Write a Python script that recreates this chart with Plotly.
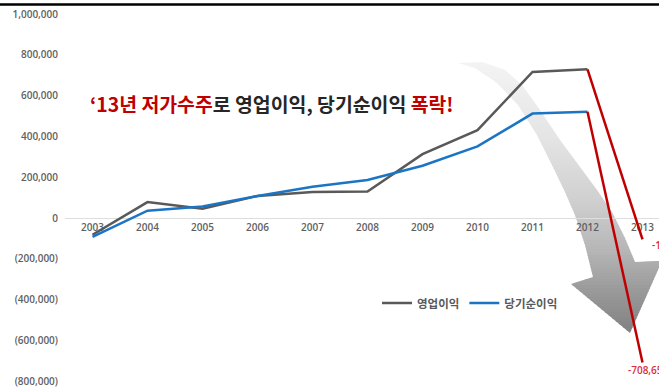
import plotly.graph_objects as go

# Annual results (million KRW)
years = [2003, 2004, 2005, 2006, 2007, 2008, 2009, 2010, 2011, 2012, 2013]
operating_profit = [-82000, 78000, 45000, 108000, 127000, 130000, 313000, 431000, 716000, 729000, -105000]
net_income = [-92000, 36000, 56000, 108000, 153000, 186000, 256000, 351000, 512000, 521000, -708654]

series_names = ["영업이익", "당기순이익"]
y_tick_values = [1000000, 800000, 600000, 400000, 200000, 0, -200000, -400000, -600000, -800000]
y_tick_labels = ["1,000,000", "800,000", "600,000", "400,000", "200,000", "0",
                 "(200,000)", "(400,000)", "(600,000)", "(800,000)"]

# Page / plot-area geometry (pixels)
W, H = 659, 387
L, R, T, B = 65, 659, 8, 387
CAT_W = 55.0            # pixels per year
ZERO_PX = 218.0         # page row of the zero line
UNITS_PER_PX = 200000 / 40.78
X_RANGE = [years[0] - 0.5, years[0] - 0.5 + (R - L) / CAT_W]
Y_RANGE = [-(B - ZERO_PX) * UNITS_PER_PX, (ZERO_PX - T) * UNITS_PER_PX]

GRAY = "#595959"
BLUE = "#1b75c4"
RED = "#c00000"
LABEL_RED = "#d8303a"
TICK_GRAY = "#5f5f5f"


def px_x(px):
    return (px - L) / (R - L)


def px_y(py):
    return (B - py) / (B - T)


def to_x(px):
    return X_RANGE[0] + px_x(px) * (X_RANGE[1] - X_RANGE[0])


def to_y(py):
    return Y_RANGE[0] + px_y(py) * (Y_RANGE[1] - Y_RANGE[0])


def clip_half(poly, keep, cross):
    out = []
    n = len(poly)
    for i in range(n):
        cur, prev = poly[i], poly[i - 1]
        if keep(cur):
            if not keep(prev):
                out.append(cross(prev, cur))
            out.append(cur)
        elif keep(prev):
            out.append(cross(prev, cur))
    return out


def clip_band(poly, y0, y1):
    def cross_at(yc):
        def f(a, b):
            t = (yc - a[1]) / (b[1] - a[1])
            return (a[0] + t * (b[0] - a[0]), yc)
        return f
    poly = clip_half(poly, lambda p: p[1] >= y0, cross_at(y0))
    if not poly:
        return poly
    return clip_half(poly, lambda p: p[1] <= y1, cross_at(y1))


def mix(stops, y):
    for (ya, ca), (yb, cb) in zip(stops, stops[1:]):
        if ya <= y <= yb:
            t = (y - ya) / (yb - ya)
            v = round(ca + t * (cb - ca))
            return f"rgb({v},{v},{v})"
    v = stops[-1][1] if y > stops[-1][0] else stops[0][1]
    return f"rgb({v},{v},{v})"


fig = go.Figure()

# Curved "plunge" arrow (page-pixel outline) with a light-to-dark vertical shading
arrow_px = [
    (458, 63), (482, 62), (505, 70), (522, 85), (540, 110), (560, 140),
    (580, 167), (597, 190), (612, 212), (625, 238), (635, 262),
    (662, 261), (630, 333), (571, 284), (593, 277),
    (585, 245), (575, 215), (565, 192), (552, 165), (537, 135),
    (518, 105), (497, 83), (475, 68),
]
shade_stops = [(60, 244), (140, 228), (200, 208), (250, 182), (290, 154), (335, 128)]
band = 3.0
y = 60.0
while y < 335:
    piece = clip_band(arrow_px, y, y + band + 0.8)
    if len(piece) >= 3:
        path = "M " + " L ".join(f"{to_x(px):.5f},{to_y(py):.2f}" for px, py in piece) + " Z"
        fig.add_shape(type="path", path=path, xref="x", yref="y", layer="below",
                      fillcolor=mix(shade_stops, y + band / 2), line=dict(width=0))
    y += band

# 2003-2012 history
fig.add_trace(go.Scatter(x=years[:-1], y=operating_profit[:-1], mode="lines",
                         name=series_names[0], line=dict(color=GRAY, width=2.5)))
fig.add_trace(go.Scatter(x=years[:-1], y=net_income[:-1], mode="lines",
                         name=series_names[1], line=dict(color=BLUE, width=2.5)))

# 2012 -> 2013 collapse in red
for vals in (operating_profit, net_income):
    fig.add_trace(go.Scatter(x=years[-2:], y=vals[-2:], mode="lines",
                             line=dict(color=RED, width=2.5),
                             showlegend=False, hoverinfo="skip"))

# 2013 value labels
fig.add_annotation(x=years[-1], y=operating_profit[-1], text=f"{operating_profit[-1]:,}",
                   showarrow=False, xanchor="left", yanchor="middle", xshift=7, yshift=-6,
                   font=dict(family="Open Sans", size=10, color=LABEL_RED, weight=600))
fig.add_annotation(x=years[-1], y=net_income[-1], text=f"{net_income[-1]:,}",
                   showarrow=False, xanchor="left", yanchor="middle", xshift=-17, yshift=-8,
                   font=dict(family="Open Sans", size=10, color=LABEL_RED, weight=600))

# Headline
fig.add_annotation(
    xref="paper", yref="paper", x=px_x(88), y=px_y(103),
    xanchor="left", yanchor="middle", showarrow=False,
    text=(f"<span style='color:{RED}'>‘13년 저가수주</span>"
          "로 영업이익, 당기순이익 "
          f"<span style='color:{RED}'>폭락!</span>"),
    font=dict(family="Noto Sans CJK KR", size=19.4, color="#262626", weight="bold"),
)

# Black rule across the top of the page
fig.add_shape(type="line", xref="paper", yref="paper",
              x0=px_x(0), x1=1, y0=px_y(4.5), y1=px_y(4.5),
              line=dict(color="#000000", width=2.5))

fig.update_layout(
    width=W, height=H,
    margin=dict(l=L, r=W - R, t=T, b=H - B),
    paper_bgcolor="white", plot_bgcolor="white",
    font=dict(family="Open Sans"),
    showlegend=True,
    legend=dict(orientation="h", x=px_x(470), y=px_y(303),
                xanchor="center", yanchor="middle",
                bgcolor="rgba(0,0,0,0)", itemwidth=30,
                font=dict(family="Noto Sans CJK KR", size=11.5, color=GRAY, weight="bold")),
    xaxis=dict(range=X_RANGE, tickmode="array", tickvals=years,
               ticktext=[str(y) for y in years],
               anchor="free", position=px_y(ZERO_PX), showgrid=False, zeroline=False,
               showline=False, ticks="", layer="below traces", ticklabelstandoff=2,
               ticklabeloverflow="allow",
               tickfont=dict(family="Open Sans", size=10, color=TICK_GRAY, weight=600)),
    yaxis=dict(range=Y_RANGE, tickmode="array", tickvals=y_tick_values,
               ticktext=y_tick_labels, showgrid=False,
               zeroline=True, zerolinecolor="#dedede", zerolinewidth=1,
               showline=False, ticks="", ticklabelstandoff=6,
               ticklabeloverflow="allow",
               tickfont=dict(family="Open Sans", size=10, color=TICK_GRAY, weight=600)),
)

fig.write_html("out.html")
